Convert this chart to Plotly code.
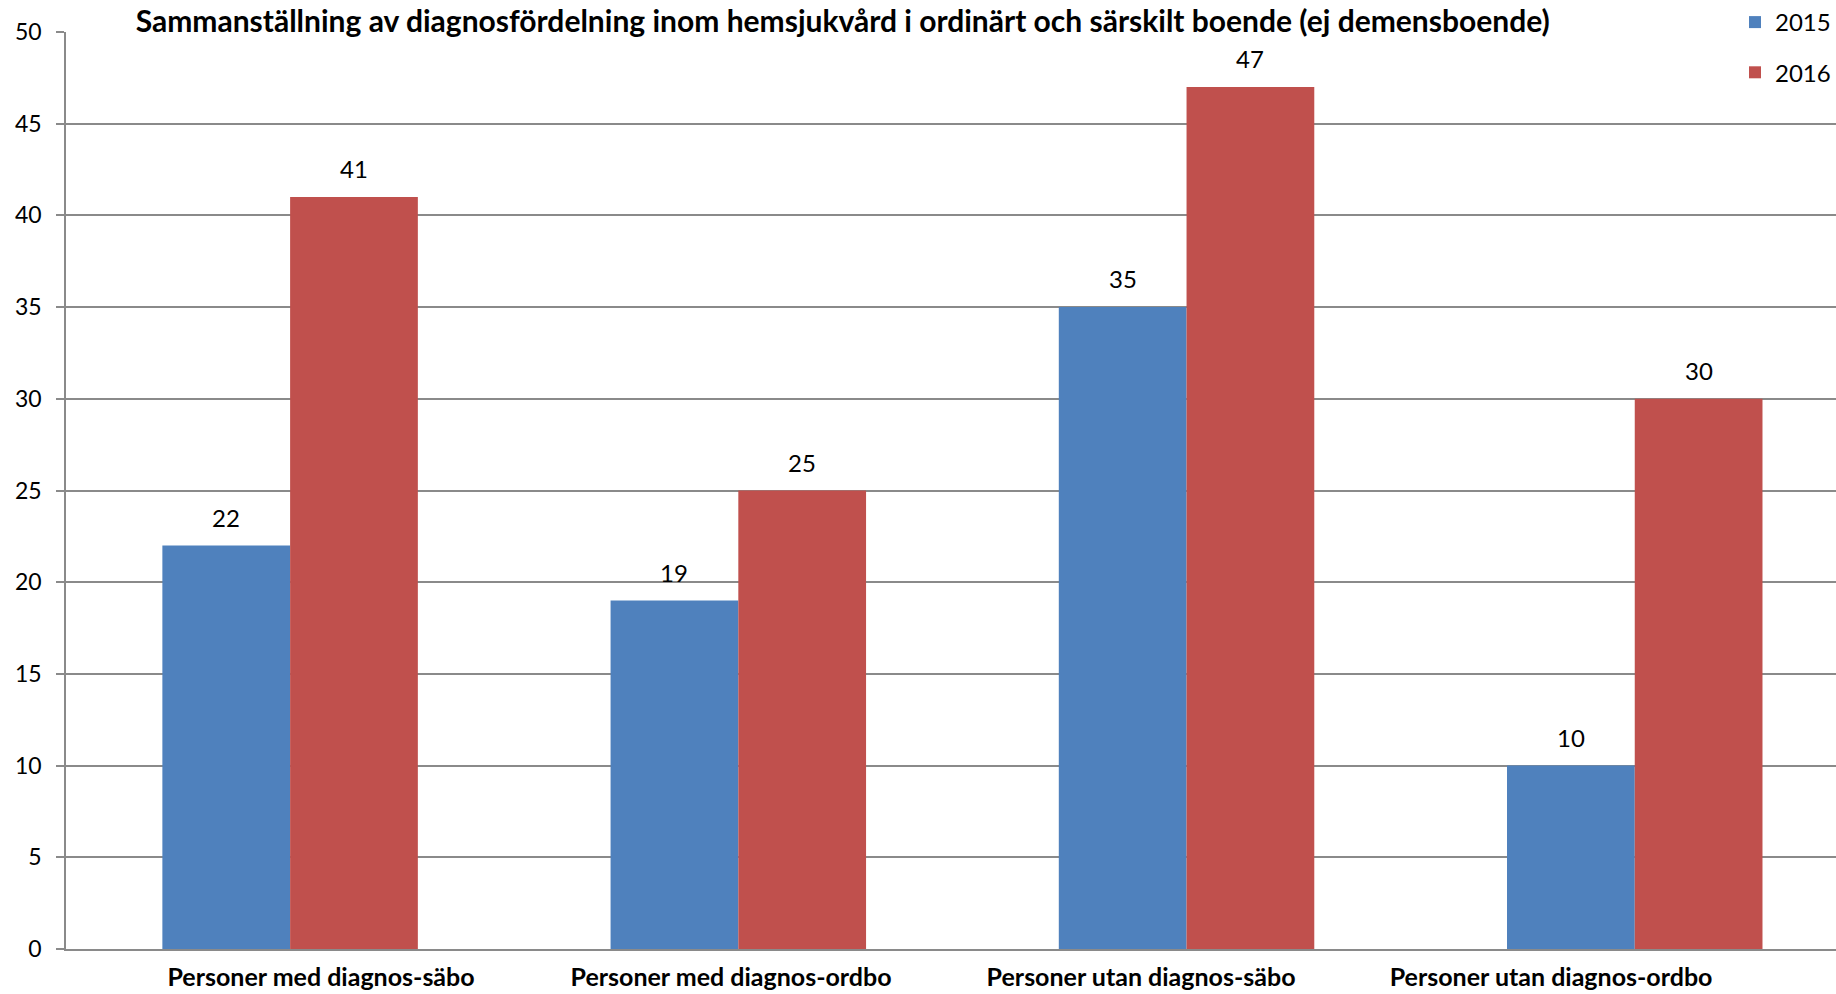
import plotly.graph_objects as go

title_text = "Sammanställning av diagnosfördelning inom hemsjukvård i ordinärt och särskilt boende (ej demensboende)"
categories = [
    "Personer med diagnos-säbo",
    "Personer med diagnos-ordbo",
    "Personer utan diagnos-säbo",
    "Personer utan diagnos-ordbo",
]
series_names = ["2015", "2016"]
values_2015 = [22, 19, 35, 10]
values_2016 = [41, 25, 47, 30]
y_ticks = [0, 5, 10, 15, 20, 25, 30, 35, 40, 45, 50]

BLUE = "#4F81BD"
RED = "#C0504D"
GRID = "#8A8A8A"
FONT = "Lato"
BARGAP = 0.43

fig = go.Figure()
series = [(series_names[0], values_2015, BLUE), (series_names[1], values_2016, RED)]
for name, vals, col in series:
    fig.add_trace(go.Bar(
        x=categories, y=vals, name=name, marker=dict(color=col, line=dict(width=0)),
        legendgroup=name,
    ))

# invisible trace to keep the label axis alive
fig.add_trace(go.Scatter(x=[0], y=[0], xaxis="x2", mode="markers",
                         marker=dict(opacity=0), showlegend=False, hoverinfo="skip"))

# value labels via annotations above each bar
half = (1 - BARGAP) / 4
annotations = []
for s_idx, (name, vals, col) in enumerate(series):
    off = -half if s_idx == 0 else half
    for i, v in enumerate(vals):
        annotations.append(dict(
            x=i + off, y=v, xref="x", yref="y", text=str(v), showarrow=False,
            yanchor="bottom", yshift=12, font=dict(family=FONT, size=24, color="#000"),
        ))

fig.update_layout(
    width=1836, height=994,
    margin=dict(l=66, r=0, t=32, b=45, autoexpand=False),
    paper_bgcolor="white", plot_bgcolor="white",
    barmode="group", bargap=BARGAP, bargroupgap=0,
    font=dict(family=FONT, color="#000"),
    title=dict(text="<b>" + title_text + "</b>", xref="container", x=0.459, xanchor="center",
               yref="container", y=1 - 21 / 994, yanchor="middle",
               font=dict(family=FONT, size=30, color="#000")),
    legend=dict(xref="container", x=1.0, xanchor="right", yref="container", y=1.0 + 5 / 994,
                yanchor="top",
                font=dict(family=FONT, size=24, color="#000"), tracegroupgap=16,
                bgcolor="rgba(0,0,0,0)"),
    xaxis=dict(range=[-0.5, 3.449], showticklabels=False, ticks="", showgrid=False,
               showline=True, linecolor=GRID, linewidth=1.5, zeroline=False),
    xaxis2=dict(overlaying="x", range=[-0.622, 3.695], tickvals=[0, 1, 2, 3],
                ticktext=["<b>" + c + "</b>" for c in categories],
                showgrid=False, showline=False, ticks="", zeroline=False, side="bottom",
                tickfont=dict(family=FONT, size=25, color="#000"), ticklabelstandoff=11),
    yaxis=dict(range=[0, 50], tickvals=y_ticks, showgrid=True, gridcolor=GRID, gridwidth=1.5,
               showline=True, linecolor=GRID, linewidth=1.5, ticks="outside", ticklen=8,
               tickcolor=GRID, tickwidth=1.5, zeroline=False, ticklabelstandoff=10,
               tickfont=dict(family=FONT, size=23, color="#000")),
    annotations=annotations,
    showlegend=True,
)

fig.write_html("out.html", config={"displayModeBar": False},
               post_script="document.body.style.margin='0';document.body.style.overflow='hidden';")
